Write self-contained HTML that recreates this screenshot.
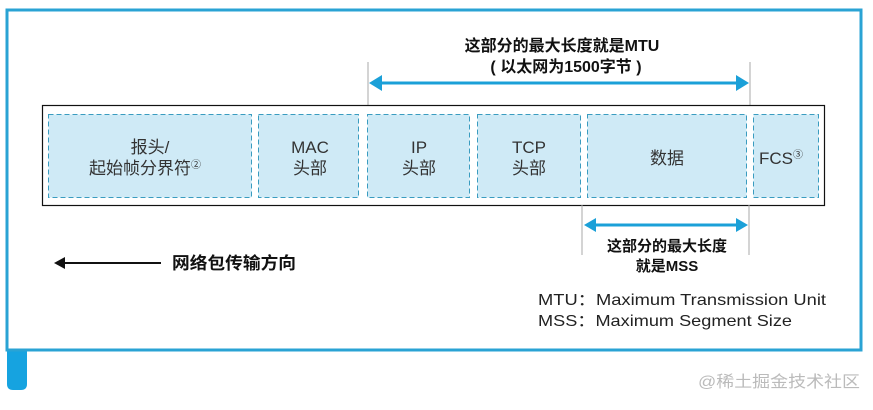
<!DOCTYPE html>
<html><head><meta charset="utf-8"><style>
body{margin:0;background:#fff;}
svg text{font-family:"Liberation Sans","Noto Sans CJK SC",sans-serif;}
</style></head><body>
<svg width="873" height="405" viewBox="0 0 873 405" xmlns="http://www.w3.org/2000/svg">
<path d="M7 350 H27 V384 Q27 390 21 390 H13 Q7 390 7 384 Z" fill="#16a3e0"/>
<rect x="7" y="10" width="854" height="340" fill="none" stroke="#2aa3d4" stroke-width="3"/>
<line x1="368" y1="62" x2="368" y2="105" stroke="#aaa" stroke-width="1"/>
<line x1="750" y1="62" x2="750" y2="105" stroke="#aaa" stroke-width="1"/>
<line x1="378" y1="83" x2="740" y2="83" stroke="#1ba0d8" stroke-width="3"/>
<polygon points="369,83 382,75 382,91" fill="#1ba0d8"/>
<polygon points="749,83 736,75 736,91" fill="#1ba0d8"/>
<text x="562" y="51" font-size="16" font-weight="bold" text-anchor="middle" fill="#111">这部分的最大长度就是MTU</text>
<text x="566" y="72" font-size="16" font-weight="bold" text-anchor="middle" fill="#111">( 以太网为1500字节 )</text>
<rect x="42.5" y="105.5" width="782" height="100" fill="#fff" stroke="#111" stroke-width="1.2"/>
<g fill="#cfeaf6" stroke="#3a9cc0" stroke-width="1" stroke-dasharray="5,3">
<rect x="48.5" y="114.5" width="203" height="83"/>
<rect x="258.5" y="114.5" width="100" height="83"/>
<rect x="367.5" y="114.5" width="102" height="83"/>
<rect x="477.5" y="114.5" width="103" height="83"/>
<rect x="587.5" y="114.5" width="159" height="83"/>
<rect x="753.5" y="114.5" width="65" height="83"/>
</g>
<g font-size="17" fill="#333" text-anchor="middle">
<text x="150" y="153">报头/</text>
<text x="145" y="174">起始帧分界符<tspan font-size="10" dy="-6">②</tspan></text>
<text x="310" y="153">MAC</text><text x="310" y="174">头部</text>
<text x="419" y="153">IP</text><text x="419" y="174">头部</text>
<text x="529" y="153">TCP</text><text x="529" y="174">头部</text>
<text x="667" y="164">数据</text>
<text x="781" y="164">FCS<tspan font-size="10" dy="-6">③</tspan></text>
</g>
<line x1="582" y1="205" x2="582" y2="255" stroke="#aaa"/>
<line x1="749" y1="205" x2="749" y2="255" stroke="#aaa"/>
<line x1="592" y1="225" x2="740" y2="225" stroke="#1ba0d8" stroke-width="3"/>
<polygon points="584,225 596,218 596,232" fill="#1ba0d8"/>
<polygon points="748,225 736,218 736,232" fill="#1ba0d8"/>
<text x="667" y="251" font-size="15" font-weight="bold" text-anchor="middle" fill="#111">这部分的最大长度</text>
<text x="667" y="271" font-size="15" font-weight="bold" text-anchor="middle" fill="#111">就是MSS</text>
<line x1="62" y1="263" x2="161" y2="263" stroke="#111" stroke-width="2"/>
<polygon points="54,263 65,257 65,269" fill="#111"/>
<text x="172" y="269" font-size="17" font-weight="bold" fill="#111" textLength="124" lengthAdjust="spacingAndGlyphs">网络包传输方向</text>
<text x="538" y="305" font-size="16" fill="#222" textLength="288" lengthAdjust="spacingAndGlyphs">MTU：Maximum Transmission Unit</text>
<text x="538" y="326" font-size="16" fill="#222" textLength="254" lengthAdjust="spacingAndGlyphs">MSS：Maximum Segment Size</text>
<text x="698" y="387" font-size="16" fill="#bbb" textLength="162" lengthAdjust="spacingAndGlyphs">@稀土掘金技术社区</text>
</svg>
</body></html>
